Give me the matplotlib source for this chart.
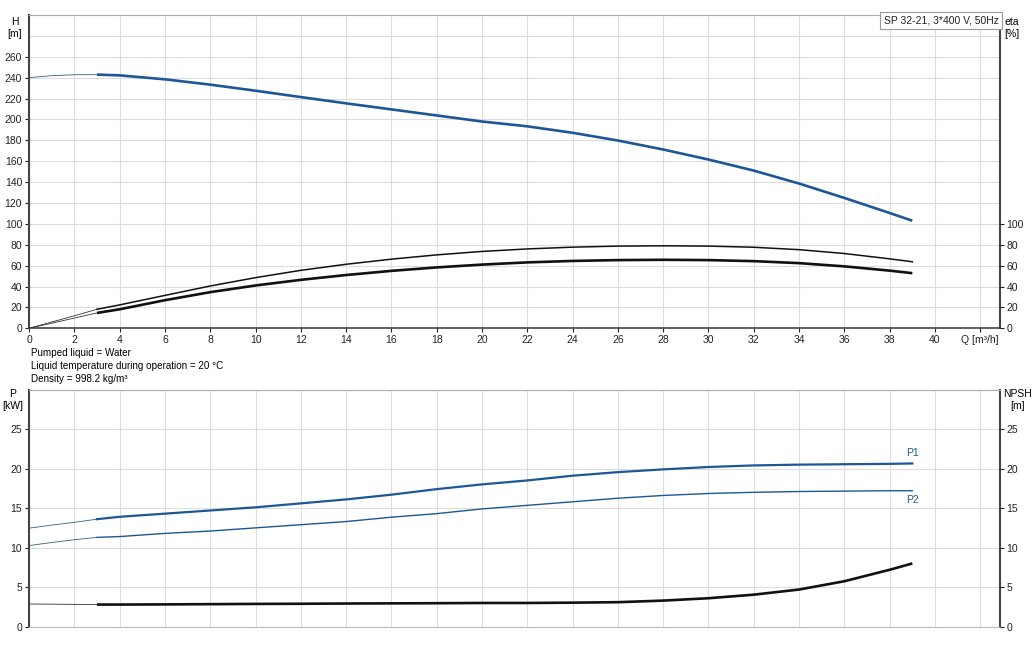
import matplotlib
matplotlib.use("Agg")
import matplotlib.pyplot as plt
import numpy as np

plt.rcParams['font.family'] = ['Liberation Sans', 'DejaVu Sans']
plt.rcParams['font.size'] = 7.5

# flow points of the duty range (thick part) and the start-up range (thin part)
q = [3, 4, 6, 8, 10, 12, 14, 16, 18, 20, 22, 24, 26, 28, 30, 32, 34, 36, 38, 39]
q0 = [0, 1, 2, 3]

head = [242.9, 242.2, 238.4, 233.3, 227.5, 221.4, 215.4, 209.6, 203.8, 198.0,
        193.4, 187.2, 179.8, 171.2, 161.6, 151.0, 138.6, 124.8, 110.4, 103.0]
head0 = [240.0, 241.9, 242.8, 242.9]

eta_pump = [18.2, 22.4, 31.5, 40.5, 48.5, 55.5, 61.3, 66.2, 70.3, 73.6,
            76.0, 77.7, 78.7, 79.0, 78.7, 77.6, 75.3, 71.6, 66.5, 63.7]
eta_pump0 = [0, 6.0, 12.0, 18.2]
eta_tot = [14.7, 18.2, 26.9, 34.6, 41.0, 46.4, 51.0, 55.0, 58.3, 61.0,
           63.1, 64.5, 65.3, 65.6, 65.3, 64.3, 62.4, 59.3, 55.2, 52.8]
eta_tot0 = [0, 4.9, 9.8, 14.7]

p1 = [13.6, 13.9, 14.3, 14.7, 15.1, 15.6, 16.1, 16.7, 17.4, 18.0,
      18.5, 19.1, 19.55, 19.9, 20.2, 20.4, 20.5, 20.55, 20.6, 20.65]
p1_0 = [12.46, 12.85, 13.2, 13.6]
p2 = [11.3, 11.4, 11.8, 12.1, 12.5, 12.9, 13.3, 13.85, 14.3, 14.9,
      15.35, 15.8, 16.25, 16.6, 16.85, 17.0, 17.1, 17.15, 17.2, 17.2]
p2_0 = [10.26, 10.65, 11.0, 11.3]
npsh = [2.8, 2.8, 2.82, 2.85, 2.88, 2.9, 2.93, 2.95, 2.97, 3.0,
        3.0, 3.04, 3.1, 3.3, 3.6, 4.05, 4.7, 5.75, 7.2, 8.0]
npsh0 = [2.87, 2.85, 2.82, 2.8]

xticks = list(range(0, 43, 2))
xlabels = [str(v) for v in range(0, 41, 2)] + ['Q [m³/h]']

blue = '#1d5796'
grid_c = '#dddddd'
dark = '#444444'

fig = plt.figure(figsize=(10.33, 6.46), dpi=100)
ax = fig.add_axes([0.0281, 0.4918, 0.9395, 0.485])
axb = fig.add_axes([0.0281, 0.0299, 0.9395, 0.3671])


def style(a, ymax):
    a.set_xlim(0, 42.85)
    a.set_ylim(0, ymax)
    a.set_xticks(xticks)
    a.grid(True, color=grid_c, linewidth=0.8)
    a.set_axisbelow(True)
    a.spines['left'].set_color(dark)
    a.spines['left'].set_linewidth(1.5)
    a.spines['right'].set_color(dark)
    a.spines['right'].set_linewidth(1.5)
    a.spines['top'].set_color('#aaaaaa')
    a.spines['top'].set_linewidth(0.8)
    a.tick_params(length=3, width=0.8, pad=2, colors='#222222')


# --- top: head and efficiency
style(ax, 300)
ax.set_yticks(range(0, 261, 20))
ax.axhline(280, color=grid_c, linewidth=0.8, zorder=0.5)
ax.set_xticklabels(xlabels)
ax.spines['bottom'].set_color(dark)
ax.spines['bottom'].set_linewidth(1.2)
ax.plot(q0, head0, color='#3a5f85', linewidth=0.6)
ax.plot(q, head, color=blue, linewidth=1.9, solid_capstyle='butt')

ax2 = ax.twinx()
ax2.set_ylim(0, 300)
ax2.set_yticks(range(0, 101, 20))
for s in ax2.spines.values():
    s.set_visible(False)
ax2.tick_params(length=3, width=0.8, pad=2, colors='#222222')
ax2.plot(q0, eta_pump0, color='#333333', linewidth=0.6)
ax2.plot(q0, eta_tot0, color='#333333', linewidth=0.6)
ax2.plot(q, eta_pump, color='#111111', linewidth=1.1)
ax2.plot(q, eta_tot, color='#111111', linewidth=1.9, solid_capstyle='butt')

ax.text(0.9992, 0.9975, 'SP 32-21, 3*400 V, 50Hz', transform=ax.transAxes,
        ha='right', va='top', fontsize=7.5, color='#222222',
        bbox=dict(boxstyle='square,pad=0.35', fc='white', ec='#999999', lw=0.8))

fig.text(15 / 1033, 1 - 28 / 646, 'H\n[m]', ha='center', va='center', fontsize=7.5, linespacing=1.3)
fig.text(1012 / 1033, 1 - 28 / 646, 'eta\n[%]', ha='center', va='center', fontsize=7.5, linespacing=1.3)

fig.text(31 / 1033, 1 - 353 / 646, 'Pumped liquid = Water', fontsize=7.1, va='center')
fig.text(31 / 1033, 1 - 366 / 646, 'Liquid temperature during operation = 20 °C', fontsize=7.1, va='center')
fig.text(31 / 1033, 1 - 379 / 646, 'Density = 998.2 kg/m³', fontsize=7.1, va='center')

# --- bottom: power and NPSH
style(axb, 30)
axb.set_yticks(range(0, 26, 5))
axb.axhline(30, color=grid_c, linewidth=0.8, zorder=0.5)
axb.spines['bottom'].set_color('#bbbbbb')
axb.spines['bottom'].set_linewidth(0.8)
axb.tick_params(axis='x', length=0, labelbottom=False)
axb.plot(q0, p1_0, color='#3a5f85', linewidth=0.6)
axb.plot(q0, p2_0, color='#3a5f85', linewidth=0.6)
axb.plot(q, p1, color=blue, linewidth=1.6)
axb.plot(q, p2, color=blue, linewidth=1.0)
axb.annotate('P1', xy=(q[-1], p1[-1]), xytext=(0, 4), textcoords='offset points',
             ha='center', va='bottom', color=blue, fontsize=7.5)
axb.annotate('P2', xy=(q[-1], p2[-1]), xytext=(0, -3), textcoords='offset points',
             ha='center', va='top', color=blue, fontsize=7.5)

axn = axb.twinx()
axn.set_ylim(0, 30)
axn.set_yticks(range(0, 26, 5))
for s in axn.spines.values():
    s.set_visible(False)
axn.tick_params(length=3, width=0.8, pad=2, colors='#222222')
axn.plot(q0, npsh0, color='#333333', linewidth=0.6)
axn.plot(q, npsh, color='#111111', linewidth=1.9, solid_capstyle='butt')

fig.text(13 / 1033, 1 - 400 / 646, 'P\n[kW]', ha='center', va='center', fontsize=7.5, linespacing=1.3)
fig.text(1018 / 1033, 1 - 400 / 646, 'NPSH\n[m]', ha='center', va='center', fontsize=7.5, linespacing=1.3)

fig.savefig('out.png', dpi=100)
